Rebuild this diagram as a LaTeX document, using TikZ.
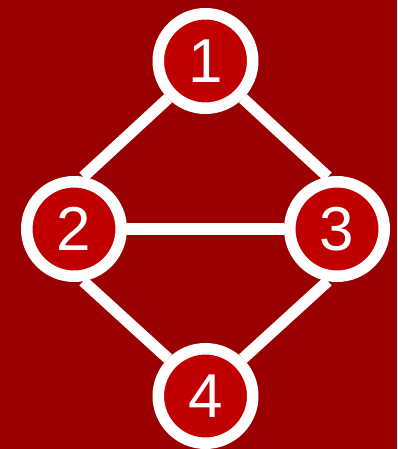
\documentclass[tikz,border=0pt]{standalone}
\usepackage{fontspec}
\setmainfont{Liberation Sans}
\usetikzlibrary{positioning,backgrounds}
\definecolor{bgred}{RGB}{155,0,0}
\definecolor{nodered}{RGB}{192,0,0}

\begin{document}
\begin{tikzpicture}[
  x=1pt, y=-1pt,
  vert/.style={
    circle, draw=white, fill=nodered, line width=11.5pt,
    minimum size=94.5pt, inner sep=0pt, text=white,
    font=\fontsize{62}{62}\selectfont
  },
  edge/.style={white, line width=11.5pt}
]
  \fill[bgred] (0,0) rectangle (397,449);
  \useasboundingbox (0,0) rectangle (397,449);

  \node[vert] (n1) at (205.5,61)  {1};
  \node[vert] (n2) at (74,229)    {2};
  \node[vert] (n3) at (337,229)   {3};
  \node[vert] (n4) at (205.5,396) {4};

  \foreach \a/\b in {n1.225/n2.80,n1.315/n3.100,n2/n3,n2.280/n4.135,n3.260/n4.45} {
    \draw[edge] (\a) -- (\b);
  }
\end{tikzpicture}
\end{document}
